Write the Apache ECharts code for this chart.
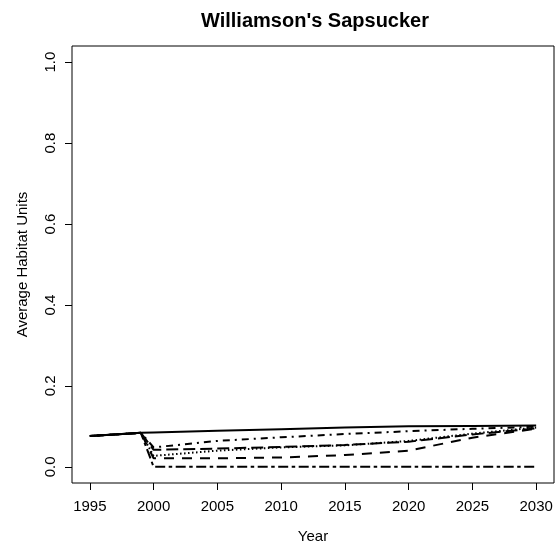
<!DOCTYPE html>
<html>
<head>
<meta charset="utf-8">
<script src="https://cdn.jsdelivr.net/npm/echarts@6/dist/echarts.min.js"></script>
<style>
html,body{margin:0;padding:0;background:#fff;}
#c{width:560px;height:549px;}
</style>
</head>
<body>
<div id="c"></div>
<script>
var titleText = "Williamson's Sapsucker";
var xName = "Year";
var yName = "Average Habitat Units";
var years = [1995, 1999, 2000, 2005, 2010, 2015, 2020, 2025, 2030];
var xTicks = [1995, 2000, 2005, 2010, 2015, 2020, 2025, 2030];
var yTicks = [0, 0.2, 0.4, 0.6, 0.8, 1.0];

var solidVals    = [0.076, 0.084, 0.085, 0.089, 0.093, 0.097, 0.100, 0.101, 0.102];
var dashdotVals  = [0.076, 0.084, 0.048, 0.064, 0.073, 0.081, 0.088, 0.094, 0.099];
var dottedVals   = [0.076, 0.084, 0.027, 0.040, 0.048, 0.053, 0.064, 0.082, 0.097];
var longdashVals = [0.076, 0.084, 0.042, 0.045, 0.049, 0.054, 0.062, 0.080, 0.095];
var dashedVals   = [0.076, 0.084, 0.021, 0.021, 0.023, 0.029, 0.040, 0.072, 0.094];
var twodashVals  = [0.076, 0.084, 0.000, 0.000, 0.000, 0.000, 0.000, 0.000, 0.000];

var FONT = "'Liberation Sans', Arial, sans-serif";

function pairs(vals) {
  return years.map(function (y, i) { return [y, vals[i]]; });
}
function mk(vals, dash, z) {
  return {
    type: 'line',
    data: pairs(vals),
    showSymbol: false,
    symbol: 'none',
    z: z,
    animation: false,
    lineStyle: { color: '#000', width: 2, type: dash, cap: 'butt' }
  };
}

var chart = echarts.init(document.getElementById('c'), null, { renderer: 'canvas' });
chart.setOption({
  backgroundColor: '#fff',
  animation: false,
  title: {
    text: titleText,
    left: 310,
    top: 6,
    textAlign: 'center',
    textStyle: { fontFamily: FONT, fontSize: 20, fontWeight: 'bold', color: '#000' }
  },
  grid: {
    left: 72, top: 46, right: 6, bottom: 66,
    show: true, borderColor: '#000', borderWidth: 1, backgroundColor: 'transparent'
  },
  xAxis: {
    type: 'value',
    min: 1993.6,
    max: 2031.4,
    name: xName,
    nameLocation: 'middle',
    nameGap: 46,
    nameTextStyle: { fontFamily: FONT, fontSize: 15, color: '#000' },
    axisLine: { show: false, onZero: false },
    splitLine: { show: false },
    axisTick: { show: true, inside: false, length: 7, customValues: xTicks, lineStyle: { color: '#000' } },
    axisLabel: {
      customValues: xTicks,
      margin: 16,
      fontFamily: FONT, fontSize: 15, color: '#000',
      formatter: function (v) { return String(v); }
    }
  },
  yAxis: {
    type: 'value',
    min: -0.04,
    max: 1.04,
    name: yName,
    nameLocation: 'middle',
    nameGap: 42,
    nameRotate: 90,
    nameTextStyle: { fontFamily: FONT, fontSize: 15, color: '#000' },
    axisLine: { show: false, onZero: false },
    splitLine: { show: false },
    axisTick: { show: true, inside: false, length: 7, customValues: yTicks, lineStyle: { color: '#000' } },
    axisLabel: {
      customValues: yTicks,
      rotate: 90,
      margin: 14,
      fontFamily: FONT, fontSize: 15, color: '#000',
      formatter: function (v) { return v.toFixed(1); }
    }
  },
  series: [
    mk(twodashVals, [3.5, 3.5, 10, 3.5], 2),
    mk(dashedVals, [10, 8], 3),
    mk(longdashVals, [12, 5], 4),
    mk(dottedVals, [1.5, 2.5], 5),
    mk(dashdotVals, [2, 5, 7, 5], 6),
    mk(solidVals, 'solid', 7)
  ]
});
</script>
</body>
</html>
